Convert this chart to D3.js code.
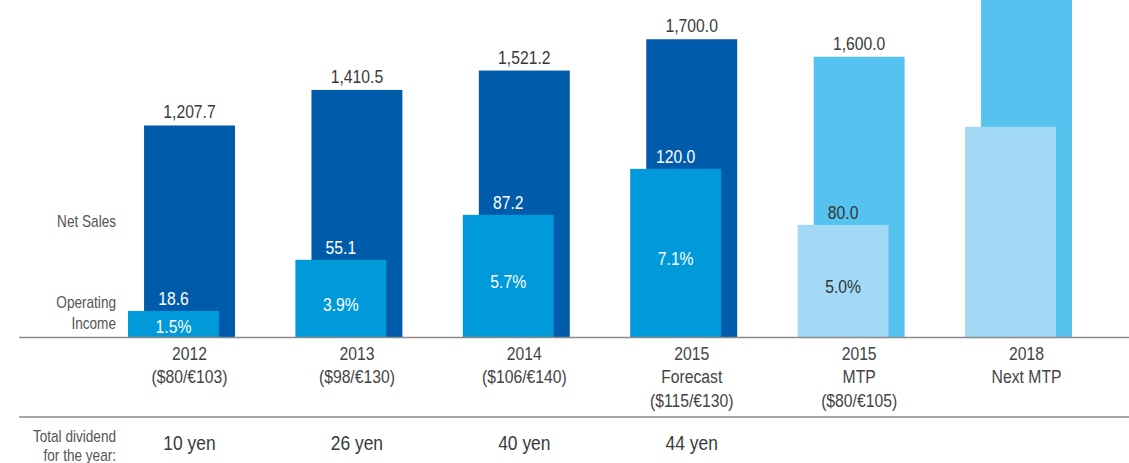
<!DOCTYPE html>
<html>
<head>
<meta charset="utf-8">
<script src="https://cdn.jsdelivr.net/npm/d3@7"></script>
<style>
  html, body { margin: 0; padding: 0; background: #fff; }
  svg { display: block; font-family: "Liberation Sans", Arial, Helvetica, sans-serif; }
</style>
</head>
<body>
<svg id="chart" width="1129" height="463"></svg>
<script>
// Periods, with their label lines under the axis
const categories = ["2012", "2013", "2014", "2015 Forecast", "2015 MTP", "2018 Next MTP"];
const categoryLines = [
  ["2012", "($80/€103)"],
  ["2013", "($98/€130)"],
  ["2014", "($106/€140)"],
  ["2015", "Forecast", "($115/€130)"],
  ["2015", "MTP", "($80/€105)"],
  ["2018", "Next MTP"]
];
// Actual results vs. mid-term plan targets
const periodKind = ["actual", "actual", "actual", "actual", "plan", "plan"];
// Net sales and operating income (billion yen)
const netSales = [1207.7, 1410.5, 1521.2, 1700.0, 1600.0, 2000.0];
const operatingIncome = [18.6, 55.1, 87.2, 120.0, 80.0, 150.0];
// Whether the figures are printed for each period
const showValues = [true, true, true, true, true, false];
// Annual dividend per share
const dividends = ["10 yen", "26 yen", "40 yen", "44 yen"];

const colors = {
  actual: { net: "#005bab", op: "#0099d9", opText: "#ffffff" },
  plan:   { net: "#56c2f0", op: "#a2d9f5", opText: "#333333" }
};

// Condensed lettering: regular sans squeezed horizontally
const NARROW = 0.85;

const svg = d3.select("#chart");
const baseY = 337;

const x = d3.scaleBand()
  .domain(categories)
  .range([128, 1072])
  .paddingInner(0.361)
  .paddingOuter(0);

// Operating income uses a scale 8x as tall as net sales
const yNet = d3.scaleLinear().domain([0, 1924]).range([baseY, 0]);
const yOp = d3.scaleLinear().domain([0, 1924 / 8]).range([baseY, 0]);

const bw = x.bandwidth();
const barW = bw * 0.85;
const shift = bw - barW;

const rows = categories.map((c, i) => ({
  c, i,
  kind: periodKind[i],
  net: netSales[i],
  op: operatingIncome[i],
  show: showValues[i],
  lines: categoryLines[i]
}));

// Places a text selection at (px, py) with narrow lettering
function place(sel, px, py) {
  return sel.attr("transform", (d, i) => `translate(${px(d, i)},${py(d, i)}) scale(${NARROW},1)`);
}

const g = svg.append("g");

// Net sales bars (behind, shifted right)
g.selectAll("rect.net").data(rows).join("rect")
  .attr("class", "net")
  .attr("x", d => x(d.c) + shift)
  .attr("width", barW)
  .attr("y", d => Math.max(0, yNet(d.net)))
  .attr("height", d => baseY - Math.max(0, yNet(d.net)))
  .attr("fill", d => colors[d.kind].net);

// Operating income bars (front, left)
g.selectAll("rect.op").data(rows).join("rect")
  .attr("class", "op")
  .attr("x", d => x(d.c))
  .attr("width", barW)
  .attr("y", d => yOp(d.op))
  .attr("height", d => baseY - yOp(d.op))
  .attr("fill", d => colors[d.kind].op);

const fmtNet = d3.format(",.1f");
const fmtOp = d3.format(".1f");
const fmtPct = d3.format(".1%");
const labeled = rows.filter(d => d.show);

// Net sales values above bars
place(g.selectAll("text.netv").data(labeled).join("text"),
    d => x(d.c) + shift + barW / 2, d => yNet(d.net) - 7)
  .attr("class", "netv")
  .attr("text-anchor", "middle")
  .attr("font-size", 18.5)
  .attr("fill", "#3a3a3a")
  .text(d => fmtNet(d.net));

// Operating income values above op bars
place(g.selectAll("text.opv").data(labeled).join("text"),
    d => x(d.c) + barW / 2, d => yOp(d.op) - 6)
  .attr("class", "opv")
  .attr("text-anchor", "middle")
  .attr("font-size", 18.5)
  .attr("fill", d => colors[d.kind].opText)
  .text(d => fmtOp(d.op));

// Operating margin inside op bars
place(g.selectAll("text.pct").data(labeled).join("text"),
    d => x(d.c) + barW / 2, d => Math.min(baseY - 4.5, (yOp(d.op) + baseY) / 2 + 12.5))
  .attr("class", "pct")
  .attr("text-anchor", "middle")
  .attr("font-size", 18.5)
  .attr("fill", d => colors[d.kind].opText)
  .text(d => fmtPct(d.op / d.net));

// Rules
svg.append("line")
  .attr("x1", 19).attr("x2", 1129).attr("y1", baseY + 0.5).attr("y2", baseY + 0.5)
  .attr("stroke", "#8a8a8a").attr("stroke-width", 1.4);
svg.append("line")
  .attr("x1", 19).attr("x2", 1129).attr("y1", 417).attr("y2", 417)
  .attr("stroke", "#8a8a8a").attr("stroke-width", 1.4);

// Category labels
const cat = place(svg.selectAll("text.cat").data(rows).join("text"),
    d => x(d.c) + shift + barW / 2, () => 360)
  .attr("class", "cat")
  .attr("text-anchor", "middle")
  .attr("font-size", 18.5)
  .attr("fill", "#444");
cat.selectAll("tspan").data(d => d.lines).join("tspan")
  .attr("x", 0)
  .attr("y", (d, j) => j * 23.5)
  .text(d => d);

// Dividends
place(svg.selectAll("text.div").data(dividends).join("text"),
    (d, i) => x(categories[i]) + shift + barW / 2, () => 450)
  .attr("class", "div")
  .attr("text-anchor", "middle")
  .attr("font-size", 20.5)
  .attr("fill", "#3a3a3a")
  .text(d => d);

// Row captions on the left
const captions = [
  { t: "Net Sales", y: 227 },
  { t: "Operating", y: 307.5 },
  { t: "Income", y: 328.5 },
  { t: "Total dividend", y: 441.5 },
  { t: "for the year:", y: 460.5 }
];
place(svg.selectAll("text.cap").data(captions).join("text"),
    () => 116, d => d.y)
  .attr("class", "cap")
  .attr("text-anchor", "end")
  .attr("font-size", 16)
  .attr("fill", "#555")
  .text(d => d.t);
</script>
</body>
</html>
